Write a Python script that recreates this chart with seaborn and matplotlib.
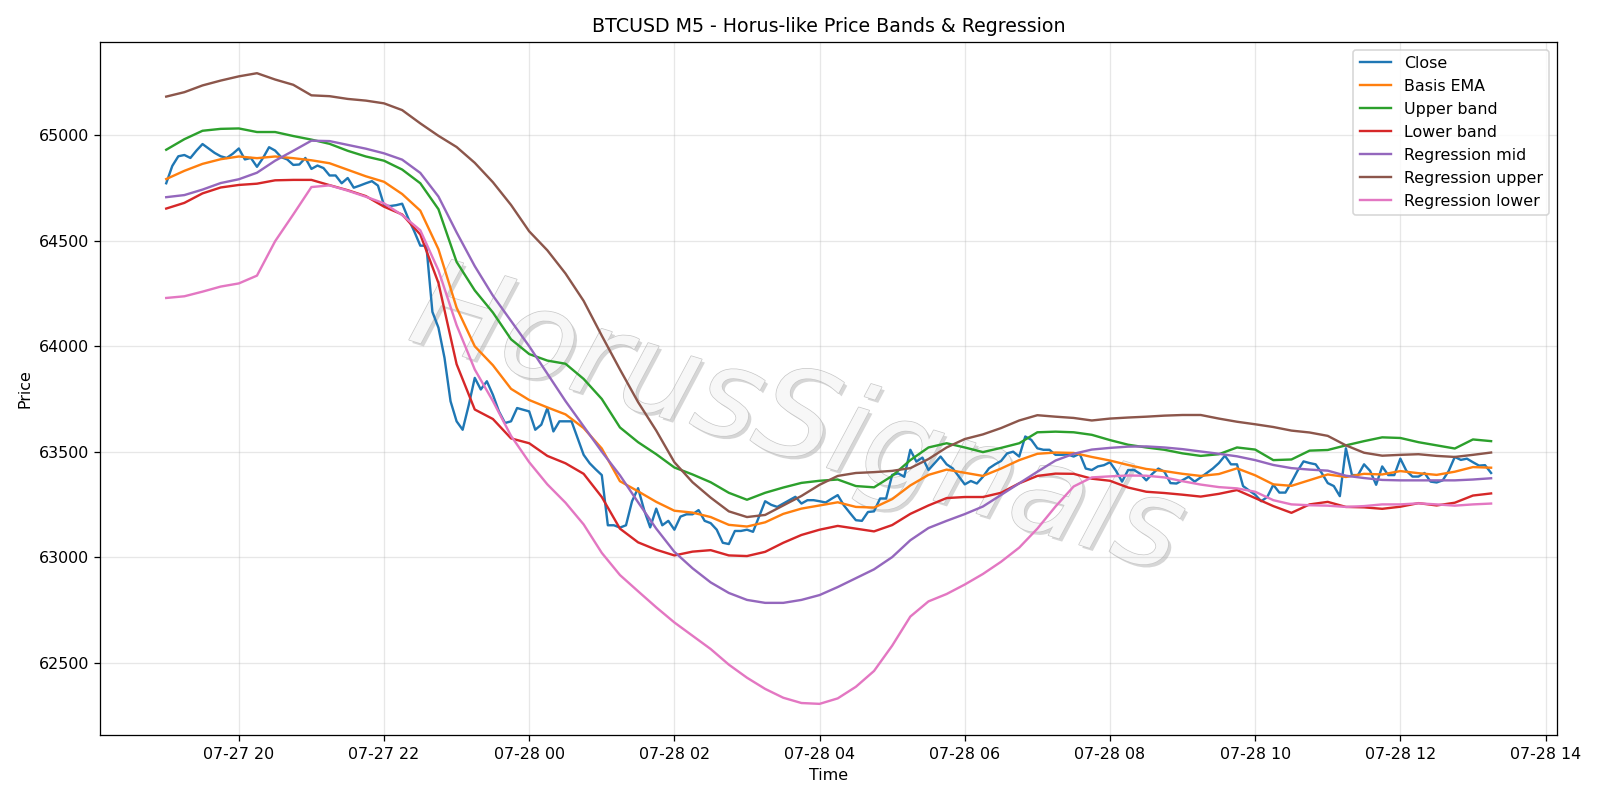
import matplotlib
matplotlib.use("Agg")
import matplotlib.pyplot as plt
import matplotlib.dates as mdates
import matplotlib.patheffects as pe
import pandas as pd
import seaborn as sns

# 5-minute closes, 07-27 19:00 -> 07-28 13:15
close = [
    64773, 64855, 64901, 64907, 64893, 64928, 64959, 64938, 64917, 64901,
    64893, 64913, 64938, 64886, 64893, 64851, 64893, 64944, 64928, 64897,
    64886, 64860, 64862, 64893, 64841, 64857, 64845, 64810, 64810, 64773,
    64798, 64752, 64762, 64773, 64783, 64762, 64669, 64665, 64669, 64676,
    64607, 64545, 64477, 64477, 64163, 64088, 63945, 63739, 63644, 63604,
    63720, 63850, 63795, 63834, 63770, 63691, 63636, 63644, 63707, 63699,
    63691, 63604, 63628, 63707, 63596, 63644, 63644, 63644, 63565, 63485,
    63445, 63416, 63389, 63151, 63151, 63140, 63151, 63265, 63327, 63223,
    63141, 63230, 63151, 63172, 63130, 63192, 63203, 63203, 63223, 63172,
    63161, 63130, 63068, 63062, 63124, 63124, 63130, 63120, 63192, 63265,
    63248, 63238, 63254, 63270, 63286, 63254, 63270, 63270, 63265, 63259,
    63277, 63294, 63246, 63210, 63175, 63172, 63214, 63217, 63278, 63278,
    63390, 63397, 63381, 63509, 63453, 63472, 63413, 63445, 63477, 63440,
    63421, 63383, 63345, 63361, 63349, 63381, 63421, 63440, 63456, 63492,
    63500, 63477, 63572, 63556, 63516, 63509, 63509, 63485, 63485, 63487,
    63477, 63490, 63420, 63413, 63430, 63436, 63450, 63409, 63358, 63413,
    63413, 63395, 63364, 63395, 63420, 63405, 63351, 63349, 63365, 63381,
    63358, 63378, 63399, 63420, 63446, 63481, 63440, 63440, 63337, 63316,
    63296, 63265, 63285, 63343, 63306, 63306, 63355, 63409, 63454, 63446,
    63440, 63399, 63351, 63337, 63289, 63516, 63389, 63389, 63440, 63409,
    63343, 63430, 63389, 63389, 63467, 63409, 63382, 63382, 63399, 63358,
    63354, 63364, 63409, 63475, 63461, 63467, 63450, 63434, 63436, 63399,
]

# smoother indicator lines, read every 15 minutes
basis_ema = [
    64793, 64832, 64865, 64887, 64900, 64892, 64900, 64892, 64882, 64868,
    64837, 64806, 64780, 64722, 64643, 64460, 64183, 64000, 63910, 63798,
    63745, 63710, 63677, 63612, 63515, 63360, 63312, 63262, 63220, 63211,
    63190, 63153, 63145, 63165, 63205, 63230, 63245, 63260, 63238, 63235,
    63275, 63340, 63390, 63415, 63400, 63385, 63420, 63460, 63490, 63496,
    63494, 63475, 63458, 63437, 63418, 63408, 63395, 63385, 63394, 63421,
    63388, 63345, 63338, 63365, 63392, 63380, 63395, 63392, 63408, 63398,
    63390, 63405, 63427, 63424,
]
upper_band = [
    64932, 64982, 65022, 65031, 65033, 65016, 65016, 64997, 64980, 64960,
    64927, 64900, 64880, 64838, 64773, 64650, 64400, 64265, 64160, 64033,
    63963, 63932, 63917, 63845, 63750, 63615, 63545, 63488, 63425, 63392,
    63355, 63305, 63272, 63305, 63330, 63352, 63362, 63368, 63337, 63331,
    63385, 63460, 63520, 63540, 63520, 63498, 63518, 63540, 63592, 63595,
    63592, 63580, 63555, 63533, 63520, 63509, 63492, 63480, 63488, 63520,
    63510, 63460, 63463, 63505, 63508, 63530, 63550, 63568, 63565, 63545,
    63530, 63515, 63558, 63550,
]
lower_band = [
    64653, 64680, 64725, 64753, 64765, 64771, 64787, 64789, 64789, 64764,
    64740, 64712, 64662, 64625, 64530, 64300, 63915, 63700, 63655, 63563,
    63540, 63480, 63445, 63395, 63285, 63135, 63070, 63035, 63008, 63026,
    63033, 63008, 63005, 63025, 63068, 63105, 63130, 63148, 63135, 63122,
    63152, 63205, 63245, 63280, 63285, 63285, 63305, 63350, 63385, 63396,
    63395, 63372, 63362, 63330, 63310, 63304, 63296, 63287, 63300, 63318,
    63280, 63242, 63210, 63250, 63262, 63238, 63236, 63229, 63239, 63256,
    63245, 63258, 63292, 63302,
]
reg_mid = [
    64707, 64717, 64743, 64774, 64792, 64823, 64880, 64927, 64975, 64973,
    64955, 64937, 64915, 64885, 64822, 64710, 64540, 64380, 64240, 64120,
    64000, 63870, 63740, 63620, 63500, 63388, 63260, 63135, 63025, 62947,
    62880, 62830, 62797, 62783, 62783, 62797, 62820, 62858, 62900, 62942,
    63000, 63080, 63138, 63172, 63204, 63240, 63295, 63350, 63405, 63458,
    63490, 63510, 63518, 63524, 63525, 63520, 63512, 63501, 63490, 63478,
    63460, 63437, 63422, 63415, 63410, 63386, 63375, 63366, 63364, 63364,
    63364, 63364, 63368, 63374,
]
reg_upper = [
    65184, 65205, 65237, 65260, 65280, 65295, 65265, 65240, 65190, 65186,
    65173, 65165, 65152, 65120, 65057, 64998, 64945, 64870, 64778, 64670,
    64545, 64455, 64345, 64215, 64050, 63890, 63735, 63600, 63450, 63355,
    63282, 63217, 63190, 63200, 63245, 63290, 63343, 63385, 63399, 63403,
    63409, 63422, 63465, 63520, 63560, 63582, 63612, 63648, 63673, 63666,
    63660, 63648, 63657, 63662, 63666, 63671, 63674, 63674, 63657, 63642,
    63630, 63617, 63600, 63591, 63575, 63530, 63495, 63481, 63485, 63488,
    63480, 63475, 63485, 63496,
]
reg_lower = [
    64229, 64237, 64259, 64283, 64298, 64335, 64498, 64625, 64755, 64763,
    64738, 64709, 64678, 64622, 64550, 64360, 64100, 63890, 63740, 63575,
    63450, 63345, 63258, 63155, 63020, 62915, 62838, 62762, 62690, 62627,
    62564, 62490, 62428, 62375, 62333, 62308, 62304, 62330, 62385, 62460,
    62580, 62718, 62790, 62825, 62870, 62920, 62978, 63045, 63135, 63240,
    63335, 63378, 63383, 63387, 63386, 63378, 63360, 63344, 63332, 63326,
    63310, 63270, 63250, 63246, 63244, 63238, 63242, 63250, 63250, 63255,
    63250, 63244, 63250, 63254,
]

close_time = pd.date_range("2024-07-27 19:00", periods=len(close), freq="5min")
band_time = pd.date_range("2024-07-27 19:00", periods=len(basis_ema), freq="15min")

DPI = 1600 / 14
fig, ax = plt.subplots(figsize=(14, 7), dpi=DPI)

sns.lineplot(x=close_time, y=close, ax=ax, color="C0", linewidth=1.5, label="Close")
bands = [
    ("Basis EMA", basis_ema, "C1"),
    ("Upper band", upper_band, "C2"),
    ("Lower band", lower_band, "C3"),
    ("Regression mid", reg_mid, "C4"),
    ("Regression upper", reg_upper, "C5"),
    ("Regression lower", reg_lower, "C6"),
]
for name, vals, col in bands:
    sns.lineplot(x=band_time, y=vals, ax=ax, color=col, linewidth=1.5, label=name)

# watermark
ax.text(0.478, 0.45, "HorusSignals", transform=ax.transAxes, fontsize=77,
        style="italic", color="#f7f7f7", rotation=-17, ha="center", va="center",
        zorder=0,
        path_effects=[pe.SimplePatchShadow(offset=(2, -2), shadow_rgbFace="#8c8c8c", alpha=0.35),
                      pe.Stroke(linewidth=0.9, foreground="#c8c8c8"),
                      pe.Normal()])

ax.xaxis.set_major_locator(mdates.HourLocator(byhour=range(0, 24, 2)))
ax.xaxis.set_major_formatter(mdates.DateFormatter("%m-%d %H"))
ax.grid(True, alpha=0.3)
ax.set_title("BTCUSD M5 - Horus-like Price Bands & Regression")
ax.set_xlabel("Time")
ax.set_ylabel("Price")
ax.legend(loc="upper right")

plt.tight_layout()
plt.savefig("out.png", dpi=DPI)
